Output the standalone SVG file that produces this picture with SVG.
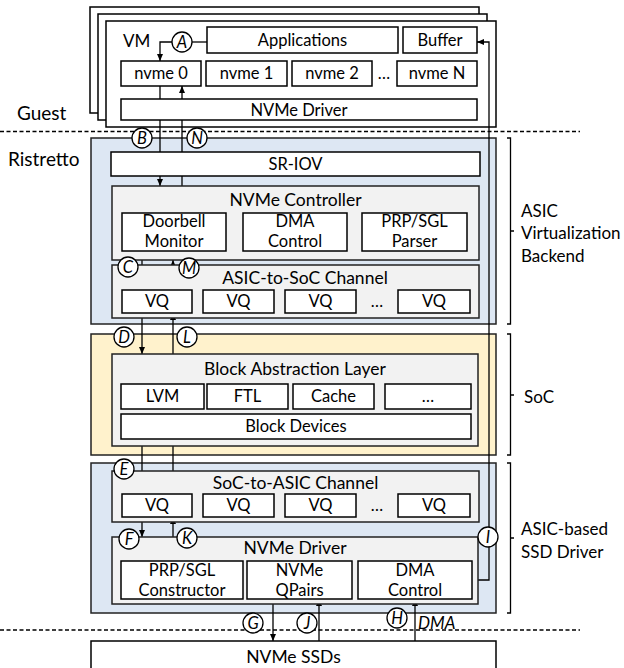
<svg xmlns="http://www.w3.org/2000/svg" width="624" height="668" viewBox="0 0 624 668">
<style>
.w{fill:#fff;stroke:#000;stroke-width:1.5}
.g{fill:#f2f2f2;stroke:#222;stroke-width:1.5}
.bl{fill:#dde7f3;stroke:#222;stroke-width:1.5}
.ye{fill:#fff2cc;stroke:#222;stroke-width:1.5}
text{font-family:Lato,"Liberation Sans",sans-serif;fill:#000}
.t{font-size:16.5px;text-anchor:middle}
.tt{font-size:17.5px;text-anchor:middle}
.s{font-size:17px}
.big{font-size:19px}
.c circle{fill:#fff;stroke:#000;stroke-width:1.3}
.c text{font-size:16.5px;font-style:italic;text-anchor:middle}
.cn{fill:none;stroke:#000;stroke-width:1.3}
.dash{stroke:#000;stroke-width:1.5;stroke-dasharray:4 2.5}
.br{fill:none;stroke:#000;stroke-width:1.3}
</style>
<defs>
<marker id="ah" markerUnits="userSpaceOnUse" markerWidth="8" markerHeight="6" refX="7" refY="3" orient="auto">
<path d="M0,0 L7,3 L0,6 z" fill="#000"/>
</marker>
</defs>

<g id="vm-stack">
<rect class="w" x="90" y="7" width="389" height="106"/>
<rect class="w" x="98" y="14" width="389" height="106"/>
<rect class="w" x="106" y="21" width="390" height="106"/>
<text class="s" x="123" y="47">VM</text>
</g>

<g id="guest-labels">
<text class="big" x="17" y="120">Guest</text>
<text class="big" x="8" y="166">Ristretto</text>
<line class="dash" x1="0" y1="131.5" x2="580" y2="131.5"/>
<line class="dash" x1="0" y1="630" x2="580" y2="630"/>
</g>

<g id="asic-backend-region"><rect class="bl" x="91" y="138" width="405" height="186"/></g>
<g id="soc-region"><rect class="ye" x="91" y="334" width="405" height="121"/></g>
<g id="ssd-driver-region"><rect class="bl" x="91" y="463" width="405" height="150"/></g>

<g id="brackets">
<path class="br" d="M507,138 H510.5 V324 H507 M510.5,231 H514"/>
<path class="br" d="M507,334 H510.5 V455 H507 M510.5,395 H514"/>
<path class="br" d="M507,463 H510.5 V613 H507 M510.5,538 H514"/>
<text class="s" x="521" y="217">ASIC</text>
<text class="s" x="521" y="239">Virtualization</text>
<text class="s" x="521" y="262">Backend</text>
<text class="s" x="524" y="403">SoC</text>
<text class="s" x="521" y="535">ASIC-based</text>
<text class="s" x="521" y="558">SSD Driver</text>
</g>

<g id="connectors">
<path class="cn" d="M192,42 H207"/>
<path class="cn" d="M172,42 H160 V61" marker-end="url(#ah)"/>
<path class="cn" d="M160,86 V186" marker-end="url(#ah)"/>
<path class="cn" d="M182,186 V86" marker-end="url(#ah)"/>
<path class="cn" d="M142,260 V290" marker-end="url(#ah)"/>
<path class="cn" d="M173,290 V260" marker-end="url(#ah)"/>
<path class="cn" d="M142,313 V354" marker-end="url(#ah)"/>
<path class="cn" d="M142,446 V494" marker-end="url(#ah)"/>
<path class="cn" d="M173,494 V313" marker-end="url(#ah)"/>
<path class="cn" d="M142,517 V537" marker-end="url(#ah)"/>
<path class="cn" d="M173,537 V517" marker-end="url(#ah)"/>
<path class="cn" d="M472,580 H489 V42 H477" marker-end="url(#ah)"/>
<path class="cn" d="M273,599 V641" marker-end="url(#ah)"/>
<path class="cn" d="M319,641 V599" marker-end="url(#ah)"/>
<path class="cn" d="M415,641 V599" marker-end="url(#ah)"/>
</g>

<g id="applications"><rect class="w" x="207" y="27" width="191" height="26"/><text class="t" x="302.5" y="46">Applications</text></g>
<g id="buffer"><rect class="w" x="403" y="27" width="74" height="26"/><text class="t" x="440" y="46">Buffer</text></g>
<g id="nvme0"><rect class="w" x="121" y="61" width="80" height="25"/><text class="t" x="161" y="79">nvme 0</text></g>
<g id="nvme1"><rect class="w" x="206" y="61" width="81" height="25"/><text class="t" x="246.5" y="79">nvme 1</text></g>
<g id="nvme2"><rect class="w" x="292" y="61" width="80" height="25"/><text class="t" x="332" y="79">nvme 2</text></g>
<text class="t" x="384" y="79">…</text>
<g id="nvmeN"><rect class="w" x="397" y="61" width="80" height="25"/><text class="t" x="437" y="79">nvme N</text></g>
<g id="vm-nvme-driver"><rect class="w" x="121" y="99" width="356" height="21"/><text class="t" x="299" y="115.5">NVMe Driver</text></g>

<g id="sr-iov"><rect class="w" x="111" y="152" width="369" height="24"/><text class="t" x="295.5" y="170">SR-IOV</text></g>

<g id="nvme-controller">
<rect class="g" x="112" y="186" width="367" height="74"/>
<text class="tt" x="295.5" y="206">NVMe Controller</text>
<rect class="w" x="122" y="213" width="104" height="38"/>
<text class="t" x="174" y="227">Doorbell</text><text class="t" x="174" y="247">Monitor</text>
<rect class="w" x="243" y="213" width="104" height="38"/>
<text class="t" x="295" y="227">DMA</text><text class="t" x="295" y="247">Control</text>
<rect class="w" x="362" y="213" width="105" height="38"/>
<text class="t" x="414.5" y="227">PRP/SGL</text><text class="t" x="414.5" y="247">Parser</text>
</g>

<g id="asic-to-soc">
<rect class="g" x="112" y="265" width="367" height="53"/>
<text class="tt" x="305" y="284">ASIC-to-SoC Channel</text>
<rect class="w" x="122" y="290" width="70" height="23"/><text class="t" x="157" y="307">VQ</text>
<rect class="w" x="203" y="290" width="71" height="23"/><text class="t" x="238.5" y="307">VQ</text>
<rect class="w" x="285" y="290" width="71" height="23"/><text class="t" x="320.5" y="307">VQ</text>
<text class="t" x="377" y="307">…</text>
<rect class="w" x="398" y="290" width="72" height="23"/><text class="t" x="434" y="307">VQ</text>
</g>

<g id="block-abstraction-layer">
<rect class="g" x="112" y="354" width="366" height="92"/>
<text class="tt" x="295" y="375">Block Abstraction Layer</text>
<rect class="w" x="121" y="384" width="83" height="25"/><text class="t" x="162.5" y="402">LVM</text>
<rect class="w" x="207" y="384" width="81" height="25"/><text class="t" x="247.5" y="402">FTL</text>
<rect class="w" x="293" y="384" width="81" height="25"/><text class="t" x="333.5" y="402">Cache</text>
<rect class="w" x="385" y="384" width="86" height="25"/><text class="t" x="428" y="402">…</text>
<rect class="w" x="121" y="414" width="350" height="25"/><text class="t" x="296" y="432">Block Devices</text>
</g>

<g id="soc-to-asic">
<rect class="g" x="112" y="471" width="367" height="51"/>
<text class="tt" x="295.5" y="489">SoC-to-ASIC Channel</text>
<rect class="w" x="122" y="494" width="70" height="23"/><text class="t" x="157" y="511">VQ</text>
<rect class="w" x="203" y="494" width="71" height="23"/><text class="t" x="238.5" y="511">VQ</text>
<rect class="w" x="285" y="494" width="71" height="23"/><text class="t" x="320.5" y="511">VQ</text>
<text class="t" x="377" y="511">…</text>
<rect class="w" x="398" y="494" width="72" height="23"/><text class="t" x="434" y="511">VQ</text>
</g>

<g id="ssd-nvme-driver">
<rect class="g" x="112" y="537" width="366" height="67"/>
<text class="tt" x="295" y="554">NVMe Driver</text>
<rect class="w" x="121" y="561" width="122" height="38"/>
<text class="t" x="182" y="576">PRP/SGL</text><text class="t" x="182" y="596">Constructor</text>
<rect class="w" x="247" y="561" width="105" height="38"/>
<text class="t" x="299.5" y="576">NVMe</text><text class="t" x="299.5" y="596">QPairs</text>
<rect class="w" x="358" y="561" width="114" height="38"/>
<text class="t" x="415" y="576">DMA</text><text class="t" x="415" y="596">Control</text>
</g>

<g id="nvme-ssds"><rect class="w" x="91" y="641" width="405" height="40"/><text class="tt" x="293.5" y="663">NVMe SSDs</text></g>

<g id="step-labels" class="c">
<circle cx="182" cy="42" r="10"/><text x="182" y="47.5">A</text>
<circle cx="142" cy="138" r="10"/><text x="142" y="143.5">B</text>
<circle cx="197" cy="138" r="10"/><text x="197" y="143.5">N</text>
<circle cx="128" cy="267" r="10"/><text x="128" y="272.5">C</text>
<circle cx="189" cy="268" r="10"/><text x="189" y="273.5">M</text>
<circle cx="124" cy="337" r="10"/><text x="124" y="342.5">D</text>
<circle cx="187" cy="337" r="10"/><text x="187" y="342.5">L</text>
<circle cx="124" cy="469" r="10"/><text x="124" y="474.5">E</text>
<circle cx="129" cy="539" r="10"/><text x="129" y="544.5">F</text>
<circle cx="187" cy="538" r="10"/><text x="187" y="543.5">K</text>
<circle cx="488" cy="537" r="10"/><text x="488" y="542.5">I</text>
<circle cx="253" cy="623" r="10"/><text x="253" y="628.5">G</text>
<circle cx="307" cy="623" r="10"/><text x="307" y="628.5">J</text>
<circle cx="397" cy="618" r="10"/><text x="397" y="623.5">H</text>
</g>
<text class="s" x="418" y="629" font-style="italic">DMA</text>
</svg>
